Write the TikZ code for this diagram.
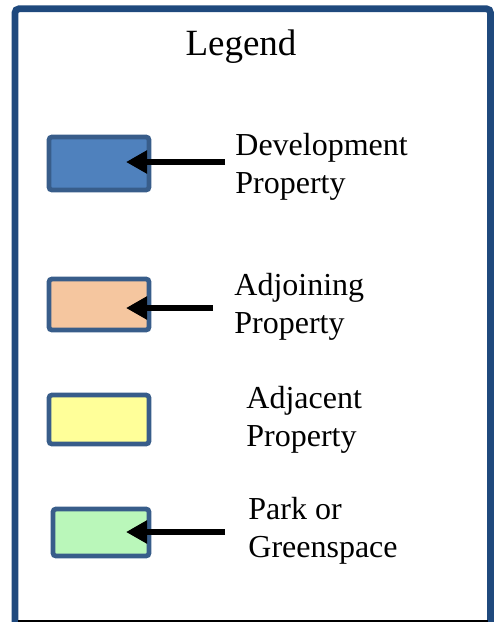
\documentclass[tikz,border=0pt]{standalone}
\usepackage{fontspec}
\setmainfont{Liberation Serif}
\usetikzlibrary{arrows.meta}
\definecolor{frameblue}{HTML}{1F497D}
\definecolor{keyedge}{HTML}{385D8A}
\definecolor{devfill}{HTML}{4F81BD}
\definecolor{adjoinfill}{HTML}{F5C69F}
\definecolor{adjacfill}{HTML}{FFFF99}
\definecolor{parkfill}{HTML}{BAF7BA}
\definecolor{baseline}{HTML}{7F9BC4}
\tikzset{
  keybox/.style={draw=keyedge, line width=2.4pt, rounded corners=1.5pt, inner sep=0pt},
  keyarrow/.style={line width=3pt, -{Triangle[length=10.5pt,width=11pt]}},
  keytext/.style={font=\fontsize{16}{19}\selectfont, align=left, inner sep=0pt, anchor=base west}
}
\begin{document}
\begin{tikzpicture}[x=0.5pt,y=-0.5pt]
  \clip (0,0) rectangle (500,622);
  % frame
  \draw[frameblue, line width=3.4pt, rounded corners=2pt] (15,650) -- (15,8.8) -- (490.5,8.8) -- (490.5,650);
  \draw[baseline, line width=0.6pt] (18,621) -- (488,621);
  \node[font=\fontsize{18.5}{22}\selectfont, anchor=base, inner sep=0pt] (legtitle) at (241,55) {Legend};
  % boxes
  \node[keybox, fill=devfill, minimum width=50pt, minimum height=26.5pt] (devbox) at (99,163.5) {};
  \node[keybox, fill=adjoinfill, minimum width=50pt, minimum height=25.5pt] (adjoinbox) at (99,304.5) {};
  \node[keybox, fill=adjacfill, minimum width=50pt, minimum height=24.5pt] (adjacbox) at (99,419.5) {};
  \node[keybox, fill=parkfill, minimum width=48pt, minimum height=23.5pt] (parkbox) at (101,532.5) {};
  % labels (anchored at the baseline of the last line)
  \node[keytext] (devtext) at (235,193) {Development\\Property};
  \node[keytext] (adjointext) at (234,333) {Adjoining\\Property};
  \node[keytext] (adjactext) at (246,446) {Adjacent\\Property};
  \node[keytext] (parktext) at (248,557) {Park or\\Greenspace};
  % arrows
  \coordinate (devtail) at (225,162);
  \coordinate (devtip) at (126,162);
  \coordinate (adjointail) at (213,308);
  \coordinate (adjointip) at (126,308);
  \coordinate (parktail) at (225,532);
  \coordinate (parktip) at (126,532);
  \draw[keyarrow] (devtail) -- (devtip);
  \draw[keyarrow] (adjointail) -- (adjointip);
  \draw[keyarrow] (parktail) -- (parktip);
\end{tikzpicture}
\end{document}
